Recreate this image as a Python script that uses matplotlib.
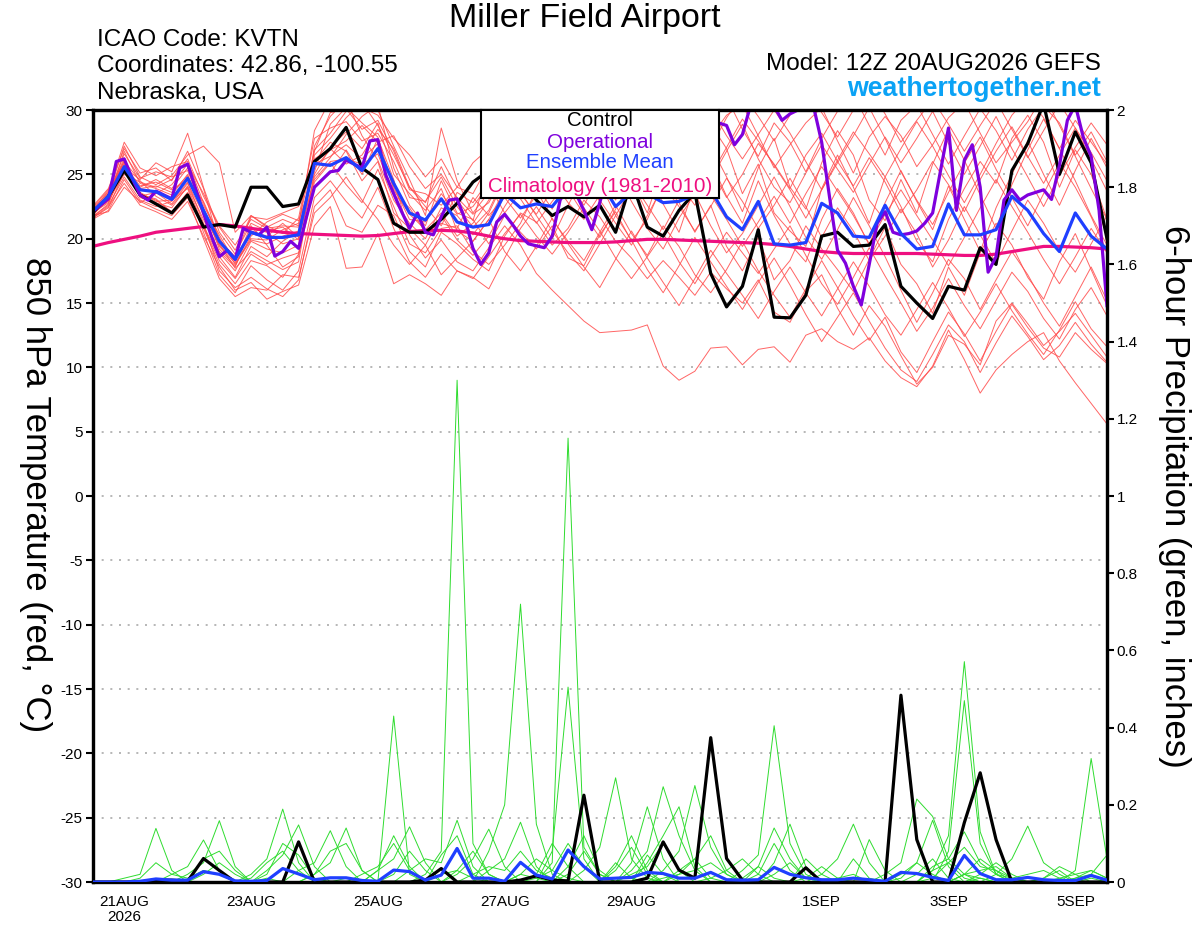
import numpy as np
import matplotlib
matplotlib.use("Agg")
import matplotlib.pyplot as plt
from datetime import datetime, timedelta

plt.rcParams['font.family'] = ['Liberation Sans', 'DejaVu Sans']
plt.rcParams['axes.unicode_minus'] = False

# --- time axis: GEFS 12Z 20AUG2026, 6-hourly (ensemble) / 3-hourly (operational)
start = datetime(2026, 8, 20, 12)
times6 = [start + timedelta(hours=6 * k) for k in range(65)]
times3 = [start + timedelta(hours=3 * k) for k in range(129)]

tick_dates = [datetime(2026, 8, 21), datetime(2026, 8, 23), datetime(2026, 8, 25),
              datetime(2026, 8, 27), datetime(2026, 8, 29), datetime(2026, 9, 1),
              datetime(2026, 9, 3), datetime(2026, 9, 5)]
tick_labels = ['21AUG\n2026', '23AUG', '25AUG', '27AUG', '29AUG', '1SEP', '3SEP', '5SEP']

# --- 850 hPa temperature (C)
control_t = [22.0, 23.3, 25.3, 23.4, 22.7, 22.0, 23.4, 20.9, 21.1, 20.9, 24.0, 24.0, 22.5,
             22.7, 26.0, 27.0, 28.65, 25.5, 24.6, 21.2, 20.5, 20.5, 21.5, 22.75, 24.4, 25.3,
             25.8, 24.8, 23.0, 21.8, 22.5, 21.7, 22.6, 20.5, 24.5, 20.9, 20.2, 22.2, 23.6,
             17.3, 14.7, 16.3, 20.7, 13.9, 13.85, 15.6, 20.2, 20.5, 19.4, 19.5, 21.1, 16.3,
             15.0, 13.8, 16.3, 16.0, 19.3, 18.0, 25.3, 27.4, 30.5, 25.0, 28.3, 25.9, 20.0]

mean_t = [22.1, 23.3, 25.6, 23.8, 23.65, 23.05, 24.7, 22.2, 19.8, 18.4, 20.5, 20.1, 20.1,
          20.3, 25.85, 25.7, 26.3, 25.3, 27.0, 24.3, 22.0, 21.45, 23.1, 21.3, 20.9, 21.1,
          23.5, 22.4, 22.7, 22.5, 24.0, 23.6, 24.5, 22.5, 23.6, 23.5, 22.8, 22.9, 23.4,
          23.8, 21.7, 20.7, 22.9, 19.6, 19.5, 19.7, 22.75, 22.0, 20.2, 20.1, 22.6, 20.4,
          19.2, 19.4, 22.7, 20.3, 20.3, 20.7, 23.3, 22.2, 20.4, 19.0, 22.0, 20.2, 19.2]

clim_t = [19.4, 19.7, 19.95, 20.2, 20.5, 20.65, 20.8, 20.95, 21.1, 21.0, 20.8, 20.65, 20.5,
          20.4, 20.35, 20.3, 20.25, 20.2, 20.25, 20.4, 20.55, 20.65, 20.65, 20.6, 20.45, 20.2,
          20.0, 19.85, 19.8, 19.75, 19.7, 19.7, 19.7, 19.75, 19.85, 19.95, 19.95, 19.9, 19.85,
          19.8, 19.75, 19.7, 19.65, 19.55, 19.4, 19.2, 19.0, 18.9, 18.85, 18.85, 18.85, 18.85,
          18.85, 18.8, 18.75, 18.7, 18.7, 18.8, 19.0, 19.2, 19.4, 19.4, 19.35, 19.3, 19.2]

oper_t = [22.1, 22.6, 23.1, 26.0, 26.2, 24.7, 23.4, 23.0, 23.7, 23.4, 23.1, 25.5, 25.8, 23.9, 22.0, 20.2,
          18.6, 19.1, 18.4, 20.8, 20.5, 20.3, 20.9, 18.65, 19.0, 19.8, 19.25, 21.7, 24.0, 24.6, 25.2, 25.3,
          26.1, 25.8, 25.5, 27.6, 27.7, 24.95, 23.5, 22.1, 20.8, 22.0, 20.5, 20.3, 21.7, 23.0, 23.1, 21.5,
          19.25, 18.0, 18.9, 21.3, 21.9, 21.1, 20.2, 19.6, 19.45, 19.3, 20.2, 23.0, 24.0, 23.5, 22.2, 20.7,
          22.8, 25.0, 27.0, 28.5, 29.5, 30.5, 29.8, 30.3, 30.6, 29.6, 29.8, 30.2, 30.5, 30.2, 29.5, 29.0,
          28.8, 27.3, 28.1, 30.3, 31.0, 31.0, 30.3, 29.2, 29.7, 30.0, 30.5, 30.2, 27.5, 23.2, 19.1, 18.1,
          16.3, 14.85, 18.0, 21.2, 22.1, 20.5, 20.3, 20.4, 20.6, 21.2, 22.0, 25.3, 28.6, 22.2, 26.1, 27.3,
          24.0, 17.4, 18.6, 23.0, 23.8, 23.0, 23.4, 23.6, 23.8, 23.05, 25.7, 29.2, 30.4, 27.9, 26.4, 22.2,
          14.8]

members_t = [
    [21.9, 23.0, 26.8, 24.3, 23.9, 23.4, 25.0, 21.8, 18.9, 17.5, 19.8, 19.2, 18.9,
     19.5, 27.2, 29.5, 30.8, 28.0, 26.1, 23.0, 21.2, 20.0, 22.4, 21.8, 20.3, 22.0,
     24.6, 23.5, 21.9, 23.8, 26.2, 27.5, 25.1, 23.0, 26.4, 28.0, 27.1, 24.2, 25.3,
     28.9, 27.0, 23.5, 25.8, 22.0, 20.6, 19.4, 23.9, 26.5, 24.0, 21.2, 24.8, 22.5,
     19.8, 18.2, 21.5, 23.9, 26.0, 24.3, 27.8, 29.6, 27.5, 24.0, 26.9, 25.0, 21.5],
    [22.3, 23.6, 25.9, 23.2, 22.8, 22.4, 24.1, 21.5, 19.0, 17.8, 20.8, 20.5, 19.6,
     20.0, 24.8, 26.3, 28.1, 29.5, 30.4, 25.5, 22.6, 21.0, 24.5, 22.0, 21.5, 19.6,
     21.8, 20.5, 19.2, 21.0, 18.5, 17.9, 20.3, 22.1, 19.8, 21.5, 24.3, 22.8, 20.5,
     22.6, 19.4, 17.5, 20.1, 16.8, 18.3, 21.0, 19.2, 17.6, 15.9, 18.4, 20.9, 18.0,
     16.5, 14.2, 17.8, 15.6, 18.9, 21.2, 19.5, 17.0, 15.3, 18.2, 20.4, 17.6, 14.8],
    [21.6, 22.4, 25.2, 24.0, 24.6, 23.9, 25.5, 22.6, 20.3, 18.2, 21.0, 19.5, 17.8,
     18.6, 26.5, 27.8, 29.4, 30.6, 28.8, 26.5, 24.0, 22.5, 21.0, 23.6, 22.8, 24.5,
     26.8, 25.0, 23.2, 24.8, 27.3, 29.1, 28.0, 26.2, 24.5, 22.0, 25.8, 27.6, 29.0,
     27.2, 24.8, 22.1, 25.5, 27.8, 24.0, 22.3, 25.9, 28.4, 26.5, 23.0, 21.4, 24.6,
     22.0, 25.8, 28.5, 26.1, 23.4, 20.8, 24.2, 26.9, 29.3, 27.0, 24.5, 21.8, 19.5],
    [22.0, 23.2, 26.1, 23.5, 23.0, 22.1, 23.6, 20.8, 18.0, 16.5, 18.3, 17.9, 17.0,
     18.8, 24.0, 25.1, 26.9, 25.0, 27.8, 24.6, 20.3, 18.5, 19.9, 18.2, 17.5, 19.3,
     21.0, 19.5, 17.3, 16.0, 14.8, 13.6, 12.7, 12.8, 12.9, 13.3, 10.1, 9.0, 9.7,
     11.5, 11.6, 10.2, 11.4, 11.6, 10.4, 12.5, 13.0, 12.0, 11.4, 12.3, 10.5, 9.2,
     8.5, 10.1, 12.9, 10.6, 8.0, 9.8, 11.0, 12.0, 12.7, 10.5, 8.8, 7.2, 5.6],
    [21.7, 22.6, 24.8, 23.0, 22.5, 22.9, 24.4, 21.2, 17.5, 16.2, 17.0, 16.1, 15.5,
     16.8, 22.5, 23.8, 21.0, 20.5, 22.6, 21.8, 19.0, 17.8, 20.5, 19.6, 18.4, 17.5,
     20.2, 22.0, 21.3, 19.5, 20.8, 23.0, 21.7, 19.8, 18.5, 16.9, 18.3, 17.0, 15.6,
     17.4, 16.1, 15.0, 16.8, 14.3, 13.5, 15.9, 17.2, 14.6, 12.5, 14.8, 13.2, 10.9,
     8.7, 10.0, 12.5, 11.8, 10.2, 13.6, 15.0, 13.4, 11.7, 12.8, 14.2, 12.5, 10.8],
    [22.2, 23.4, 27.2, 24.8, 24.2, 24.9, 26.5, 27.2, 25.9, 20.5, 21.8, 20.9, 21.5,
     21.0, 28.4, 30.8, 31.5, 30.2, 29.6, 27.8, 26.5, 24.8, 26.2, 24.0, 23.5, 25.8,
     27.5, 29.2, 30.5, 28.4, 26.3, 28.9, 30.8, 29.5, 27.6, 29.8, 31.0, 28.5, 26.2,
     27.9, 29.6, 30.4, 28.0, 25.5, 27.3, 29.0, 30.2, 27.6, 25.1, 27.9, 29.5, 28.0,
     25.6, 27.3, 29.4, 30.6, 28.2, 25.9, 27.5, 29.1, 31.2, 28.8, 26.4, 23.9, 21.5],
    [21.8, 23.1, 25.4, 23.9, 24.1, 23.6, 24.9, 22.4, 19.2, 17.9, 20.2, 21.3, 21.9,
     21.4, 25.0, 27.1, 28.3, 27.0, 29.0, 25.0, 23.5, 22.2, 23.9, 20.6, 19.8, 21.5,
     23.8, 25.5, 24.1, 22.3, 25.0, 26.7, 24.4, 21.8, 23.9, 25.6, 22.7, 20.5, 24.2,
     26.0, 23.3, 21.2, 24.5, 21.8, 19.6, 18.2, 21.5, 23.9, 22.0, 19.5, 22.8, 25.3,
     22.9, 20.7, 24.1, 21.5, 19.0, 22.4, 25.0, 27.6, 25.0, 22.6, 25.3, 27.8, 25.5],
    [22.4, 23.8, 26.0, 24.5, 23.3, 22.6, 24.0, 21.0, 18.6, 17.0, 19.4, 18.6, 19.8,
     20.6, 26.0, 27.5, 26.8, 24.5, 26.0, 22.0, 20.8, 19.5, 21.8, 19.9, 18.7, 20.2,
     22.5, 24.4, 26.0, 24.6, 22.8, 21.5, 23.4, 25.2, 22.9, 20.8, 19.2, 21.6, 23.5,
     21.0, 18.9, 20.4, 22.6, 24.8, 22.5, 20.1, 18.4, 20.7, 23.2, 21.0, 18.6, 16.0,
     13.5, 15.8, 18.4, 16.9, 14.5, 16.8, 19.0, 17.2, 15.0, 13.2, 15.5, 17.8, 15.2],
    [21.5, 22.2, 24.6, 22.8, 23.5, 24.2, 25.8, 23.5, 21.0, 19.5, 21.5, 20.8, 21.0,
     20.9, 25.5, 26.9, 27.6, 28.8, 27.5, 28.0, 25.6, 23.9, 25.0, 23.2, 21.9, 22.8,
     25.0, 27.1, 25.6, 23.9, 26.1, 24.8, 22.9, 24.6, 26.8, 25.1, 23.6, 25.8, 27.9,
     25.5, 23.2, 25.0, 27.4, 25.8, 23.9, 26.5, 28.2, 26.0, 24.1, 26.3, 24.4, 22.0,
     23.8, 26.0, 24.2, 22.1, 24.6, 26.8, 28.7, 26.4, 24.3, 26.5, 28.6, 26.2, 23.7],
    [22.1, 23.5, 25.8, 23.6, 22.9, 23.0, 23.9, 20.5, 17.2, 15.8, 17.9, 16.8, 16.0,
     17.5, 23.2, 24.5, 22.9, 21.6, 24.0, 20.8, 18.2, 17.0, 18.8, 17.5, 16.9, 18.6,
     20.4, 21.9, 20.2, 18.8, 20.5, 22.4, 20.6, 18.5, 16.9, 18.6, 20.4, 18.2, 16.5,
     18.6, 20.5, 18.9, 17.3, 19.2, 21.0, 18.7, 16.5, 14.9, 17.0, 19.3, 17.1, 15.0,
     12.8, 14.6, 16.9, 14.8, 13.0, 15.2, 17.4, 15.9, 13.8, 12.2, 14.5, 16.2, 14.0],
    [22.0, 22.8, 25.5, 24.6, 25.9, 25.2, 28.2, 24.0, 20.5, 18.8, 21.2, 20.6, 20.9,
     19.9, 26.9, 28.2, 29.9, 31.2, 30.0, 27.2, 24.6, 21.8, 28.6, 24.5, 22.0, 23.6,
     26.0, 28.3, 27.0, 25.2, 27.8, 30.2, 29.0, 27.1, 25.4, 27.6, 29.5, 27.8, 25.6,
     29.8, 31.0, 28.5, 26.4, 29.0, 27.5, 25.2, 27.8, 29.9, 31.2, 28.8, 26.5, 29.2,
     30.4, 28.1, 25.8, 28.0, 30.1, 28.4, 26.1, 28.5, 30.3, 29.0, 26.5, 28.3, 26.0],
    [21.9, 23.3, 26.3, 23.4, 23.1, 22.0, 23.5, 20.9, 18.3, 16.9, 18.8, 18.0, 18.5,
     18.9, 24.4, 25.9, 24.2, 22.8, 25.4, 22.5, 19.6, 18.9, 20.8, 21.0, 19.0, 18.0,
     19.5, 21.2, 23.8, 21.5, 19.8, 18.3, 20.5, 22.6, 20.4, 18.7, 21.0, 19.4, 17.2,
     15.8, 17.6, 19.8, 17.5, 15.6, 13.9, 16.1, 18.3, 16.2, 14.0, 12.1, 13.9, 11.2,
     9.6, 12.0, 14.3, 12.6, 10.5, 12.8, 14.9, 13.1, 11.5, 10.8, 12.7, 11.4, 10.3],
    [22.3, 23.0, 25.0, 24.4, 24.0, 24.6, 26.2, 23.3, 20.9, 19.1, 21.8, 21.0, 20.4,
     21.6, 27.8, 28.6, 29.1, 27.6, 28.2, 26.0, 23.2, 22.9, 24.8, 22.5, 20.9, 22.2,
     24.8, 26.4, 28.6, 27.2, 25.5, 23.8, 25.9, 28.1, 26.3, 24.0, 26.2, 28.5, 26.9,
     24.6, 26.8, 28.9, 26.2, 24.0, 22.8, 25.1, 27.3, 25.4, 23.6, 25.8, 27.9, 25.9,
     27.8, 29.9, 27.4, 25.0, 27.2, 29.5, 27.0, 24.8, 22.5, 24.9, 27.1, 29.0, 27.3],
    [21.7, 22.7, 25.7, 24.1, 24.4, 23.8, 24.6, 22.9, 20.1, 18.0, 19.9, 19.6, 20.2,
     20.6, 25.8, 26.4, 27.3, 26.2, 27.4, 24.0, 21.5, 21.3, 23.5, 21.9, 22.5, 24.2,
     22.0, 23.6, 21.8, 20.0, 22.6, 24.9, 23.0, 21.2, 19.5, 21.8, 24.1, 22.5, 20.6,
     22.5, 24.7, 22.9, 20.8, 22.6, 24.7, 22.5, 20.1, 22.4, 20.6, 18.3, 20.2, 22.3,
     20.4, 17.8, 19.9, 22.5, 20.3, 18.1, 20.6, 23.0, 21.2, 19.0, 17.4, 19.6, 21.8],
    [22.5, 23.9, 27.0, 25.1, 25.5, 24.5, 26.8, 23.9, 19.6, 17.7, 19.0, 18.3, 17.6,
     18.2, 25.2, 28.9, 30.2, 29.0, 27.9, 23.8, 21.9, 20.7, 22.0, 20.2, 21.2, 23.0,
     25.5, 23.1, 21.2, 22.9, 24.4, 22.6, 24.9, 26.8, 28.6, 26.4, 24.6, 26.5, 28.4,
     30.1, 28.0, 26.2, 28.1, 30.0, 28.2, 26.0, 23.8, 25.9, 28.0, 30.2, 27.8, 25.2,
     23.0, 21.1, 23.6, 25.9, 27.9, 25.4, 23.2, 21.0, 23.5, 25.9, 24.0, 21.7, 19.0],
    [21.6, 22.5, 24.3, 22.6, 22.1, 21.5, 22.9, 20.2, 17.8, 16.0, 16.6, 15.3, 15.9,
     16.4, 21.0, 22.5, 17.7, 17.8, 20.4, 16.5, 17.2, 16.5, 15.6, 17.5, 17.0, 16.1,
     18.5, 20.8, 22.5, 20.6, 18.9, 17.5, 19.6, 21.8, 19.9, 17.6, 15.8, 17.9, 20.1,
     18.2, 16.3, 14.5, 16.6, 18.5, 16.4, 14.1, 12.0, 13.9, 15.8, 13.6, 11.5, 9.8,
     8.9, 11.0, 13.3, 12.0, 9.6, 11.9, 14.0, 12.4, 10.6, 11.7, 13.5, 11.8, 10.4],
    [22.2, 23.7, 27.5, 25.5, 24.9, 25.6, 26.0, 22.8, 19.9, 18.6, 21.7, 21.5, 22.0,
     22.5, 26.2, 27.0, 25.8, 26.5, 28.5, 27.0, 24.0, 22.8, 25.6, 23.0, 21.4, 25.5,
     28.2, 26.5, 24.9, 26.8, 28.9, 27.0, 25.3, 23.7, 25.8, 27.9, 26.1, 24.3, 22.6,
     24.9, 27.1, 29.3, 27.6, 25.7, 23.8, 21.6, 23.8, 26.1, 28.3, 26.6, 24.8, 27.0,
     29.1, 27.2, 24.9, 22.8, 25.0, 27.4, 29.6, 31.0, 29.4, 27.0, 29.2, 27.5, 25.8],
    [21.8, 22.1, 24.0, 22.9, 22.3, 21.8, 23.2, 20.0, 16.9, 15.5, 16.2, 16.0, 17.2,
     17.0, 22.0, 23.2, 24.8, 23.0, 21.5, 19.5, 18.0, 19.5, 17.2, 18.5, 19.8, 21.5,
     19.0, 17.5, 19.4, 21.6, 19.6, 17.8, 16.2, 18.4, 20.6, 18.5, 16.6, 14.8, 16.9,
     19.1, 17.3, 15.6, 13.8, 15.9, 17.8, 15.8, 14.0, 16.1, 18.2, 16.3, 14.1, 12.5,
     14.5, 16.6, 14.6, 12.4, 14.3, 16.5, 14.4, 12.6, 11.0, 12.9, 15.1, 13.0, 11.6],
    [22.0, 23.4, 26.6, 24.7, 25.2, 24.8, 25.3, 22.2, 19.4, 18.1, 20.0, 19.9, 20.7,
     21.2, 26.8, 29.8, 30.1, 28.5, 29.2, 26.8, 23.8, 23.5, 22.6, 24.0, 25.9, 27.0,
     29.5, 27.6, 25.8, 27.5, 29.6, 31.0, 29.2, 27.3, 29.1, 30.6, 28.7, 30.5, 29.0,
     27.1, 29.4, 31.2, 29.5, 27.6, 29.6, 31.5, 29.8, 27.9, 30.0, 31.6, 29.7, 27.5,
     29.2, 30.8, 28.9, 26.8, 28.8, 30.7, 28.5, 26.3, 28.4, 30.5, 28.6, 26.7, 24.5],
    [22.1, 22.9, 25.3, 23.3, 23.6, 22.7, 24.3, 21.9, 19.5, 18.3, 20.6, 20.2, 21.2,
     20.1, 24.6, 26.0, 26.2, 25.8, 26.6, 23.4, 22.4, 20.5, 21.2, 20.8, 23.2, 21.8,
     23.2, 21.6, 23.4, 25.6, 23.8, 21.9, 20.1, 22.3, 24.5, 22.6, 20.7, 23.0, 25.2,
     23.4, 21.5, 19.4, 21.3, 23.3, 21.2, 23.5, 25.6, 23.7, 21.8, 19.6, 21.9, 23.8,
     21.8, 19.9, 17.9, 20.1, 22.4, 24.6, 22.5, 20.5, 18.4, 16.5, 18.6, 20.8, 18.9],
]

# --- 6-hour precipitation (inches)
control_p = [0, 0, 0, 0, 0.005, 0.005, 0.002, 0.061, 0.03, 0, 0, 0, 0,
             0.104, 0, 0, 0, 0, 0, 0, 0, 0.005, 0.035, 0, 0, 0,
             0, 0.005, 0.016, 0.005, 0.003, 0.225, 0, 0, 0, 0.01, 0.104, 0.031, 0.01,
             0.374, 0.061, 0.005, 0, 0, 0, 0.037, 0, 0, 0, 0, 0, 0.484,
             0.11, 0, 0, 0.154, 0.283, 0.11, 0, 0, 0, 0, 0, 0, 0]

mean_p = [0, 0, 0, 0.002, 0.008, 0.005, 0.005, 0.027, 0.02, 0.003, 0.002, 0.004, 0.035,
          0.021, 0.006, 0.011, 0.011, 0.004, 0.002, 0.031, 0.027, 0.005, 0.018, 0.087, 0.01, 0.01,
          0.002, 0.051, 0.018, 0.008, 0.083, 0.04, 0.008, 0.01, 0.012, 0.025, 0.022, 0.01, 0.01,
          0.025, 0.006, 0.005, 0.006, 0.038, 0.02, 0.011, 0.006, 0.006, 0.01, 0.006, 0.002, 0.025,
          0.022, 0.012, 0.004, 0.069, 0.022, 0.006, 0.006, 0.012, 0.006, 0.004, 0.004, 0.017, 0.005]

members_p = [
    [0, 0, 0.01, 0.02, 0.139, 0.03, 0, 0, 0, 0, 0, 0, 0,
     0, 0, 0, 0.01, 0, 0, 0.43, 0.02, 0, 0, 0, 0, 0,
     0, 0, 0, 0, 0, 0, 0, 0.05, 0.01, 0, 0, 0, 0,
     0, 0, 0, 0, 0, 0, 0, 0, 0, 0.06, 0.01, 0, 0,
     0, 0, 0, 0.02, 0.01, 0, 0, 0, 0, 0, 0, 0, 0],
    [0, 0, 0, 0.01, 0.05, 0.02, 0.01, 0.03, 0.02, 0, 0, 0, 0,
     0, 0, 0, 0, 0, 0.03, 0.12, 0.04, 0, 0, 0, 0, 0,
     0, 0.02, 0.01, 0, 0, 0, 0, 0.03, 0.09, 0.02, 0, 0, 0,
     0, 0, 0, 0, 0, 0, 0, 0, 0, 0, 0.11, 0.03, 0,
     0, 0, 0, 0, 0.01, 0, 0, 0, 0, 0, 0, 0.02, 0],
    [0, 0, 0, 0, 0, 0.02, 0.04, 0.109, 0.03, 0, 0, 0, 0,
     0, 0, 0, 0, 0, 0, 0.02, 0.08, 0.03, 0, 0, 0, 0,
     0, 0, 0, 0, 0, 0, 0, 0, 0, 0.07, 0.02, 0, 0,
     0, 0, 0, 0, 0, 0, 0, 0, 0, 0, 0, 0.02, 0.05,
     0.215, 0.17, 0.06, 0.02, 0, 0, 0, 0, 0, 0, 0, 0, 0],
    [0, 0, 0, 0, 0, 0, 0.02, 0.05, 0.159, 0.04, 0, 0, 0,
     0, 0, 0, 0, 0, 0, 0, 0.03, 0.06, 0.05, 0.16, 0.04, 0,
     0, 0, 0, 0, 0, 0, 0, 0, 0.03, 0.08, 0.247, 0.12, 0.03,
     0, 0, 0, 0, 0, 0, 0, 0, 0, 0, 0, 0, 0.01,
     0.05, 0.02, 0, 0, 0, 0, 0, 0, 0, 0, 0, 0, 0],
    [0, 0, 0, 0, 0, 0, 0, 0.06, 0.08, 0.03, 0, 0, 0,
     0, 0, 0, 0, 0, 0, 0, 0, 0, 0.07, 0.12, 0.02, 0,
     0, 0, 0, 0, 0, 0, 0, 0, 0.02, 0.04, 0.1, 0.03, 0,
     0, 0, 0, 0, 0, 0, 0, 0, 0, 0, 0, 0, 0.02,
     0.05, 0.16, 0.04, 0, 0, 0, 0, 0, 0, 0, 0, 0, 0],
    [0, 0, 0, 0, 0, 0, 0, 0.02, 0.05, 0.02, 0, 0.01, 0,
     0, 0, 0, 0, 0, 0, 0, 0, 0, 0, 0.03, 0.08, 0.02,
     0, 0, 0, 0, 0, 0, 0, 0, 0, 0.05, 0.12, 0.195, 0.04,
     0, 0, 0, 0, 0, 0, 0, 0, 0, 0, 0, 0, 0,
     0.02, 0.06, 0.01, 0, 0, 0, 0, 0, 0.01, 0.03, 0, 0, 0],
    [0, 0, 0, 0, 0, 0, 0, 0, 0, 0, 0.02, 0.06, 0.189,
     0.05, 0, 0, 0, 0, 0, 0, 0, 0, 0, 0.02, 0.06, 0.137,
     0.04, 0, 0, 0, 0, 0, 0, 0, 0, 0, 0.03, 0.08, 0.25,
     0.09, 0.02, 0, 0, 0, 0, 0, 0, 0, 0, 0, 0, 0,
     0, 0.01, 0.05, 0.01, 0, 0, 0, 0, 0, 0, 0, 0, 0],
    [0, 0, 0, 0, 0, 0, 0, 0, 0, 0, 0, 0.03, 0.07,
     0.148, 0.04, 0, 0, 0, 0, 0, 0, 0, 0, 0, 0, 0.08,
     0.2, 0.72, 0.15, 0.02, 0, 0, 0, 0, 0, 0, 0, 0.02, 0.06,
     0.01, 0, 0, 0, 0, 0, 0, 0, 0, 0, 0, 0, 0,
     0, 0.03, 0.12, 0.571, 0.13, 0.02, 0, 0, 0, 0, 0, 0, 0],
    [0, 0, 0, 0, 0, 0, 0, 0, 0, 0, 0, 0.02, 0.1,
     0.07, 0.01, 0, 0, 0, 0, 0, 0, 0, 0, 0, 0, 0.03,
     0.06, 0.155, 0.04, 0, 0, 0, 0, 0, 0, 0, 0, 0.03, 0.06,
     0.12, 0.03, 0, 0, 0, 0, 0, 0, 0, 0, 0, 0, 0,
     0, 0, 0.08, 0.47, 0.1, 0.02, 0, 0, 0, 0, 0, 0, 0],
    [0, 0, 0, 0, 0, 0, 0, 0, 0, 0, 0.01, 0.05, 0.08,
     0.03, 0, 0, 0, 0, 0, 0, 0, 0, 0, 0, 0.02, 0.04,
     0.03, 0.08, 0.03, 0.01, 0, 0, 0, 0, 0, 0, 0.01, 0.02, 0.03,
     0.05, 0.02, 0, 0, 0, 0, 0, 0, 0.01, 0.02, 0, 0, 0,
     0, 0.04, 0.06, 0.13, 0.05, 0.02, 0.01, 0, 0, 0, 0, 0, 0],
    [0, 0, 0, 0, 0, 0, 0, 0, 0, 0, 0, 0, 0,
     0.03, 0.05, 0.133, 0.04, 0, 0, 0, 0, 0, 0, 0, 0, 0,
     0, 0.02, 0.06, 0.03, 0.01, 0, 0, 0, 0, 0, 0, 0, 0,
     0.01, 0.03, 0.06, 0.02, 0, 0, 0, 0, 0, 0, 0, 0, 0,
     0, 0.03, 0.05, 0.09, 0.04, 0.03, 0.01, 0, 0, 0, 0, 0.01, 0],
    [0, 0, 0, 0, 0, 0, 0, 0, 0, 0, 0, 0, 0,
     0, 0.02, 0.05, 0.14, 0.03, 0, 0, 0, 0, 0, 0, 0, 0,
     0, 0, 0.02, 0.1, 0.04, 0, 0, 0, 0, 0, 0, 0, 0,
     0, 0, 0.01, 0.04, 0.01, 0, 0, 0, 0, 0, 0, 0, 0,
     0, 0, 0, 0.02, 0.06, 0.03, 0, 0, 0, 0, 0.01, 0.03, 0.01],
    [0, 0, 0, 0, 0, 0, 0, 0, 0, 0, 0, 0, 0,
     0, 0.02, 0.08, 0.1, 0.03, 0, 0, 0, 0, 0, 0, 0, 0,
     0, 0, 0, 0.05, 1.15, 0.09, 0.02, 0, 0, 0, 0, 0, 0,
     0, 0, 0.03, 0.07, 0.405, 0.1, 0.02, 0, 0, 0, 0, 0, 0,
     0, 0, 0, 0.02, 0.03, 0.04, 0.01, 0, 0, 0, 0, 0, 0],
    [0, 0, 0, 0, 0, 0, 0, 0, 0, 0, 0, 0, 0,
     0, 0, 0, 0, 0.02, 0.04, 0.1, 0.03, 0, 0, 0, 0, 0,
     0, 0, 0, 0.08, 0.505, 0.06, 0, 0, 0, 0, 0, 0, 0,
     0, 0, 0, 0.04, 0.14, 0.06, 0.01, 0, 0, 0, 0, 0, 0,
     0, 0, 0, 0, 0.02, 0.05, 0.02, 0, 0, 0, 0, 0, 0],
    [0, 0, 0, 0, 0, 0, 0, 0, 0, 0, 0, 0, 0,
     0, 0, 0, 0, 0, 0.03, 0.06, 0.143, 0.05, 0, 0, 0, 0,
     0, 0, 0.01, 0.03, 0.1, 0.04, 0, 0, 0, 0, 0, 0, 0,
     0, 0, 0, 0.02, 0.1, 0.03, 0, 0, 0, 0, 0, 0, 0,
     0, 0, 0, 0, 0, 0.02, 0.06, 0.145, 0.05, 0.02, 0, 0, 0],
    [0, 0, 0, 0, 0, 0, 0, 0, 0, 0, 0, 0, 0,
     0, 0, 0, 0, 0, 0, 0, 0, 0.02, 0.08, 1.3, 0.1, 0.02,
     0, 0, 0, 0, 0.04, 0.12, 0.03, 0, 0, 0, 0, 0, 0,
     0, 0, 0, 0, 0.05, 0.15, 0.04, 0, 0, 0, 0, 0, 0,
     0, 0, 0, 0, 0, 0, 0.01, 0.02, 0.03, 0.01, 0, 0, 0],
    [0, 0, 0, 0, 0, 0, 0, 0, 0, 0, 0, 0, 0,
     0, 0, 0, 0, 0, 0, 0, 0, 0, 0.02, 0.03, 0.01, 0,
     0, 0, 0, 0, 0.02, 0.08, 0.02, 0, 0, 0, 0, 0, 0,
     0, 0, 0, 0, 0.02, 0.05, 0.01, 0, 0, 0, 0, 0, 0,
     0, 0, 0, 0, 0, 0, 0, 0, 0.01, 0.04, 0.02, 0, 0],
    [0, 0, 0, 0, 0, 0, 0, 0, 0, 0, 0, 0, 0,
     0, 0, 0, 0, 0, 0, 0, 0, 0, 0, 0, 0, 0,
     0, 0, 0, 0, 0, 0.03, 0.09, 0.27, 0.06, 0.01, 0, 0, 0,
     0, 0, 0, 0, 0, 0, 0.06, 0.02, 0, 0, 0, 0, 0,
     0, 0, 0, 0, 0, 0, 0, 0, 0, 0, 0.03, 0.32, 0.06],
    [0, 0, 0, 0, 0, 0, 0, 0, 0, 0, 0, 0, 0,
     0, 0, 0, 0, 0, 0, 0, 0, 0, 0, 0, 0, 0,
     0, 0, 0, 0, 0, 0, 0, 0.04, 0.12, 0.03, 0, 0, 0,
     0, 0, 0, 0, 0, 0, 0.01, 0.04, 0.01, 0, 0, 0, 0,
     0, 0, 0, 0, 0, 0, 0, 0, 0, 0.01, 0.02, 0.03, 0.01],
    [0, 0, 0, 0, 0, 0, 0, 0, 0, 0, 0, 0, 0,
     0, 0, 0, 0, 0, 0, 0, 0, 0, 0, 0, 0, 0,
     0, 0, 0, 0, 0, 0, 0, 0, 0.05, 0.195, 0.06, 0, 0,
     0, 0, 0, 0, 0, 0, 0, 0.02, 0.06, 0.15, 0.05, 0, 0,
     0, 0, 0, 0, 0, 0, 0, 0, 0, 0, 0.01, 0.02, 0.07],
]

RED = '#ff4a4a'
GREEN = '#2fdc2f'
PURPLE = '#7f00dd'
BLUE = '#1f3fff'
MAGENTA = '#ee0f80'

fig = plt.figure(figsize=(12, 9.27), dpi=100)
ax = fig.add_axes([0.0771, 0.0485, 0.8454, 0.8328])

for m in members_t:
    ax.plot(times6, m, color=RED, lw=0.7, alpha=0.85, zorder=2)
ax.plot(times6, clim_t, color=MAGENTA, lw=2.3, zorder=3)
ax.plot(times6, control_t, color='black', lw=2.3, zorder=4)
ax.plot(times3, oper_t, color=PURPLE, lw=2.3, zorder=5)
ax.plot(times6, mean_t, color=BLUE, lw=2.3, zorder=6)

ax.set_ylim(-30, 30)
ax.set_xlim(times6[0], times6[-1])
ax.set_yticks(np.arange(-30, 31, 5))
ax.yaxis.grid(True, color='#aaaaaa', linestyle=(0, (1.2, 4)), linewidth=1.2)
ax.set_xticks(tick_dates)
ax.set_xticklabels(tick_labels, fontsize=11, linespacing=1.15)
ax.tick_params(axis='x', length=0, pad=9)
ax.tick_params(axis='y', direction='out', length=5, width=1.5, labelsize=11, pad=2)
for s in ax.spines.values():
    s.set_linewidth(2.3)

ax2 = ax.twinx()
for m in members_p:
    ax2.plot(times6, m, color=GREEN, lw=0.7, zorder=2)
ax2.plot(times6, control_p, color='black', lw=2.3, zorder=4)
ax2.plot(times6, mean_p, color=BLUE, lw=2.3, zorder=5)
ax2.set_ylim(0, 2)
ax2.set_xlim(times6[0], times6[-1])
ax2.set_yticks(np.arange(0, 2.01, 0.2))
ax2.set_yticklabels(['%g' % round(v, 1) for v in np.arange(0, 2.01, 0.2)])
ax2.tick_params(axis='y', direction='out', length=5, width=1.5, labelsize=11, pad=2)
for s in ax2.spines.values():
    s.set_linewidth(2.3)

# legend box
lg = fig.add_axes([481 / 1200, 1 - 198 / 927, 238 / 1200, 88 / 927])
lg.set_xticks([])
lg.set_yticks([])
lg.set_facecolor('white')
for s in lg.spines.values():
    s.set_linewidth(1.5)
for yy, txt, col in [(0.875, 'Control', 'black'), (0.636, 'Operational', PURPLE),
                     (0.398, 'Ensemble Mean', BLUE), (0.136, 'Climatology (1981-2010)', MAGENTA)]:
    lg.text(0.5, yy, txt, color=col, ha='center', va='center', fontsize=14.8,
            transform=lg.transAxes)

# header texts
fig.text(585 / 1200, 1 - 18 / 927, 'Miller Field Airport', ha='center', va='center', fontsize=24.5)
fig.text(97 / 1200, 1 - 40 / 927, 'ICAO Code: KVTN', ha='left', va='center', fontsize=17.5)
fig.text(97 / 1200, 1 - 66 / 927, 'Coordinates: 42.86, -100.55', ha='left', va='center', fontsize=17.5)
fig.text(97 / 1200, 1 - 93 / 927, 'Nebraska, USA', ha='left', va='center', fontsize=17.5)
fig.text(1101 / 1200, 1 - 64 / 927, 'Model: 12Z 20AUG2026 GEFS', ha='right', va='center', fontsize=17.5)
fig.text(1101 / 1200, 1 - 89 / 927, 'weathertogether.net', ha='right', va='center',
         fontsize=19.3, fontweight='bold', color='#0aa2f5')

fig.text(35 / 1200, 1 - 495 / 927, '850 hPa Temperature (red, \u00b0C)', rotation=270,
         ha='center', va='center', fontsize=25)
fig.text(1175 / 1200, 1 - 496 / 927, '6-hour Precipitation (green, inches)', rotation=270,
         ha='center', va='center', fontsize=25)

fig.savefig('out.png', dpi=100)
